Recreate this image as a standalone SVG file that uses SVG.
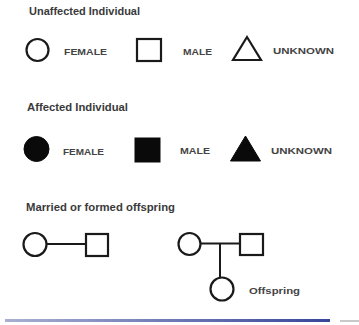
<svg xmlns="http://www.w3.org/2000/svg" width="359" height="325" viewBox="0 0 359 325">
<defs>
<style>
.sym{fill:none;stroke:#1a1a1a;stroke-width:2.2}
.fill{fill:#0a0a0a;stroke:#0a0a0a;stroke-width:1}
.con{fill:none;stroke:#1a1a1a;stroke-width:2}
.h{font-family:"Liberation Sans",Arial,sans-serif;font-weight:bold;font-size:10px;fill:#3a3a3a}
.l{font-family:"Liberation Sans",Arial,sans-serif;font-weight:bold;font-size:9px;fill:#444}
</style>
<linearGradient id="bar" x1="0" y1="0" x2="1" y2="0">
<stop offset="0" stop-color="#a9b0d2"/>
<stop offset="1" stop-color="#37469a"/>
</linearGradient>
</defs>
<rect width="359" height="325" fill="#ffffff"/>

<g id="headings">
<text class="h" x="29" y="15" textLength="111" lengthAdjust="spacingAndGlyphs">Unaffected Individual</text>
<text class="h" x="27" y="111" textLength="101" lengthAdjust="spacingAndGlyphs">Affected Individual</text>
<text class="h" x="26" y="211" textLength="149" lengthAdjust="spacingAndGlyphs">Married or formed offspring</text>
</g>

<g id="unaffected-female">
<circle class="sym" cx="37.5" cy="50" r="11"/>
<text class="l" x="64" y="55" textLength="43" lengthAdjust="spacingAndGlyphs">FEMALE</text>
</g>
<g id="unaffected-male">
<rect class="sym" x="137" y="39" width="24" height="22"/>
<text class="l" x="183" y="55" textLength="29" lengthAdjust="spacingAndGlyphs">MALE</text>
</g>
<g id="unaffected-unknown">
<polygon class="sym" points="247,37 233,60 261,60" stroke-linejoin="miter"/>
<text class="l" x="273" y="54" textLength="61" lengthAdjust="spacingAndGlyphs">UNKNOWN</text>
</g>

<g id="affected-female">
<circle class="fill" cx="36.5" cy="149" r="12.5"/>
<text class="l" x="63" y="155" textLength="41" lengthAdjust="spacingAndGlyphs">FEMALE</text>
</g>
<g id="affected-male">
<rect class="fill" x="135" y="138" width="25" height="24"/>
<text class="l" x="180" y="154" textLength="30" lengthAdjust="spacingAndGlyphs">MALE</text>
</g>
<g id="affected-unknown">
<polygon class="fill" points="245.5,136 230.5,161 260.5,161"/>
<text class="l" x="271" y="154" textLength="61" lengthAdjust="spacingAndGlyphs">UNKNOWN</text>
</g>

<g id="connectors">
<line class="con" x1="46.5" y1="244" x2="86" y2="244"/>
<line class="con" x1="200.5" y1="243.5" x2="240" y2="243.5"/>
<line class="con" x1="220" y1="243.5" x2="220" y2="277.5"/>
</g>

<g id="couple1-female">
<circle class="sym" cx="35" cy="244.5" r="11.5"/>
</g>
<g id="couple1-male">
<rect class="sym" x="86" y="234" width="22" height="22"/>
</g>
<g id="couple2-female">
<circle class="sym" cx="189.5" cy="244" r="11"/>
</g>
<g id="couple2-male">
<rect class="sym" x="240" y="234" width="23" height="21"/>
</g>
<g id="offspring">
<circle class="sym" cx="222" cy="289" r="11.5"/>
<text class="l" x="249" y="294" textLength="51" lengthAdjust="spacingAndGlyphs">Offspring</text>
</g>

<g id="footer">
<rect x="5" y="319" width="325" height="3" fill="url(#bar)"/>
<rect x="340" y="320" width="19" height="2" fill="#c9c9c9"/>
</g>
</svg>
